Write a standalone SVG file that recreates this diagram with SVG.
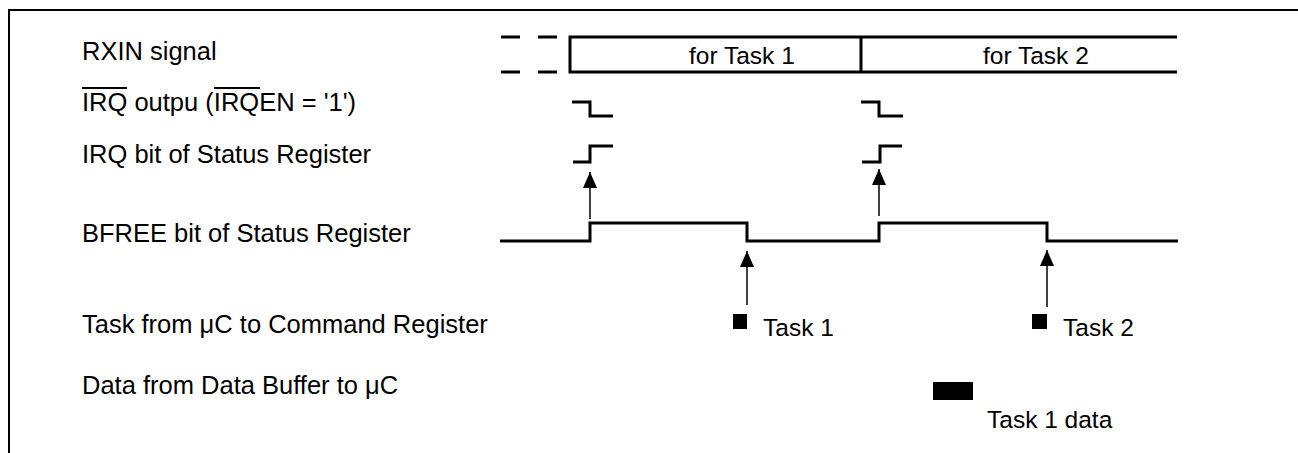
<svg xmlns="http://www.w3.org/2000/svg" width="1298" height="453" viewBox="0 0 1298 453">
<defs>
<style>
.lbl{font-family:"Liberation Sans",Arial,sans-serif;font-size:25.5px;fill:#000}
.in{font-family:"Liberation Sans",Arial,sans-serif;font-size:24.5px;fill:#000}
.sig{fill:none;stroke:#000;stroke-width:3;stroke-linejoin:miter;stroke-linecap:butt}
.arr{fill:none;stroke:#000;stroke-width:1.5}
.ovl{stroke:#000;stroke-width:2}
</style>
<marker id="ah" markerWidth="16" markerHeight="14" refX="16" refY="7" orient="auto" markerUnits="userSpaceOnUse" viewBox="0 0 16 14">
<path d="M16,7 L0,0 L0,14 Z" fill="#000"/>
</marker>
</defs>
<rect width="1298" height="453" fill="#fff"/>
<g id="frame">
<path d="M9,453 V10 H1298" fill="none" stroke="#000" stroke-width="2"/>
</g>
<g id="labels">
<text class="lbl" x="82" y="60">RXIN signal</text>
<text class="lbl" x="82" y="111">IRQ outpu (IRQEN = '1')</text>
<line class="ovl" x1="82" y1="88" x2="127" y2="88"/>
<line class="ovl" x1="214" y1="88" x2="260" y2="88"/>
<text class="lbl" x="82" y="163">IRQ bit of Status Register</text>
<text class="lbl" x="82" y="242">BFREE bit of Status Register</text>
<text class="lbl" x="82" y="333">Task from μC to Command Register</text>
<text class="lbl" x="82" y="394">Data from Data Buffer to μC</text>
</g>
<g id="rxin">
<path class="sig" d="M501,37 H520 M538,37 H557 M501,72 H520 M538,72 H557"/>
<path class="sig" d="M1177,37 H570 V72 H1177 M861,37 V72"/>
<text class="in" x="689" y="64">for Task 1</text>
<text class="in" x="983" y="64">for Task 2</text>
</g>
<g id="irq-output">
<path class="sig" d="M572,102 H590 V116 H613"/>
<path class="sig" d="M861,102 H879 V116 H903"/>
</g>
<g id="irq-bit">
<path class="sig" d="M573,162 H590 V146 H613"/>
<path class="sig" d="M862,162 H880 V146 H902"/>
</g>
<g id="bfree">
<path class="sig" d="M500,241 H590 V223 H747 V241 H879 V223 H1047 V241 H1178"/>
</g>
<g id="task1">
<rect x="733" y="314" width="14" height="15" fill="#000"/>
<text class="in" x="763" y="336">Task 1</text>
</g>
<g id="task2">
<rect x="1032" y="314" width="15" height="15" fill="#000"/>
<text class="in" x="1063" y="336">Task 2</text>
</g>
<g id="data">
<rect x="933" y="382" width="40" height="18" fill="#000"/>
<text class="in" x="987" y="428">Task 1 data</text>
</g>
<g id="connectors">
<line class="arr" x1="590" y1="219" x2="590" y2="172" marker-end="url(#ah)"/>
<line class="arr" x1="879" y1="216" x2="879" y2="169" marker-end="url(#ah)"/>
<line class="arr" x1="747" y1="305" x2="747" y2="251" marker-end="url(#ah)"/>
<line class="arr" x1="1047" y1="307" x2="1047" y2="250" marker-end="url(#ah)"/>
</g>
</svg>
